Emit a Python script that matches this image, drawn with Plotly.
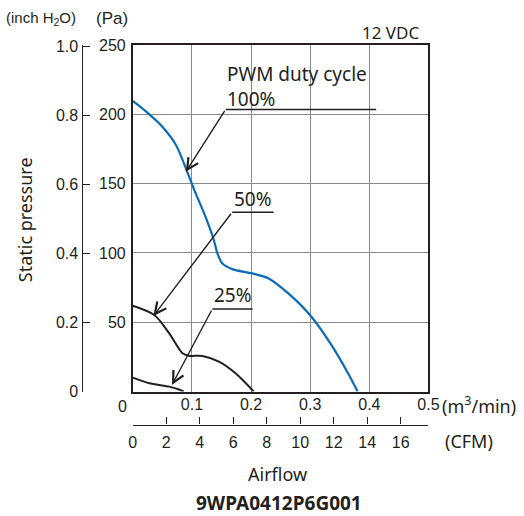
import plotly.graph_objects as go

# ---------------- data ----------------
flow_100 = [0, 0.025, 0.050, 0.073, 0.092, 0.104, 0.123, 0.137, 0.143, 0.151, 0.168, 0.2016, 0.2296, 0.263, 0.2996, 0.336, 0.364, 0.380]
pa_100 = [209.6, 201, 191, 177.8, 158.5, 145.3, 126, 109.3, 99.7, 92.5, 88.3, 85.2, 81.6, 70.8, 55.2, 33.5, 13.1, 0]

flow_50 = [0, 0.0364, 0.0616, 0.084, 0.095, 0.1176, 0.1456, 0.1737, 0.2044]
pa_50 = [61.9, 55.2, 42, 27.6, 25.8, 25.6, 21.5, 13.1, 0]

flow_25 = [0, 0.028, 0.0616, 0.078, 0.086]
pa_25 = [10, 5.9, 3.5, 1.4, 0]

# pointer labels: label, tip (x,y), elbow (x,y), line end x
ptr_names = ["PWM duty cycle<br>100%", "50%", "25%"]
ptr_tip_x = [0.0896, 0.0348, 0.0662]
ptr_tip_y = [158.5, 54.5, 4.7]
ptr_elbow_x = [0.157, 0.168, 0.1344]
ptr_elbow_y = [203.5, 129.3, 59.5]
ptr_end_x = [0.4115, 0.238, 0.2027]
ptr_text_x = [0.1567, 0.1675, 0.1339]
ptr_text_y = [220.0, 138.9, 69.4]

pa_ticks = [50, 100, 150, 200, 250]
inch_ticks = [0, 0.2, 0.4, 0.6, 0.8, 1.0]
inch_labels = ["0", "0.2", "0.4", "0.6", "0.8", "1.0"]
m3_ticks = [0.1, 0.2, 0.3, 0.4, 0.5]
m3_labels = ["0.1", "0.2", "0.3", "0.4", "0.5"]
cfm_ticks = [0, 2, 4, 6, 8, 10, 12, 14, 16]

PA_PER_INCH = 249.089
M3_PER_CFM = 0.0283168

# ---------------- layout geometry ----------------
W, H = 524, 516
ML, MR, MT, MB = 60, 20, 30, 30
PW = W - ML - MR
PH = H - MT - MB


def px(x):
    return (x - ML) / PW


def py(y):
    return (H - MB - y) / PH


TXT = "#231f20"
NUM_FONT = "Liberation Sans Narrow, Arial Narrow, Liberation Sans, Arial"
LBL_FONT = "Noto Sans, Liberation Sans, Arial"
BLUE = "#0a6bb8"

fig = go.Figure()

fig.add_trace(go.Scatter(x=flow_100, y=pa_100, mode="lines",
                         line=dict(color=BLUE, width=2.2, shape="spline", smoothing=0.8),
                         showlegend=False, hoverinfo="skip"))
fig.add_trace(go.Scatter(x=flow_50, y=pa_50, mode="lines",
                         line=dict(color=TXT, width=2, shape="spline", smoothing=0.8),
                         showlegend=False, hoverinfo="skip"))
fig.add_trace(go.Scatter(x=flow_25, y=pa_25, mode="lines",
                         line=dict(color=TXT, width=2, shape="spline", smoothing=0.6),
                         showlegend=False, hoverinfo="skip"))

# dummy traces to activate secondary axes
fig.add_trace(go.Scatter(x=[None], y=[None], yaxis="y2", showlegend=False, hoverinfo="skip"))
fig.add_trace(go.Scatter(x=[None], y=[None], xaxis="x2", showlegend=False, hoverinfo="skip"))

annotations = []
shapes = []
for name, tx, ty, ex, ey, endx in zip(ptr_names, ptr_tip_x, ptr_tip_y, ptr_elbow_x, ptr_elbow_y, ptr_end_x):
    shapes.append(dict(type="line", xref="x", yref="y", x0=ex, y0=ey, x1=endx, y1=ey,
                       line=dict(color=TXT, width=1.4)))
    annotations.append(dict(x=tx, y=ty, ax=ex, ay=ey, xref="x", yref="y", axref="x", ayref="y",
                            text="", showarrow=True, arrowhead=5, arrowsize=1.6, arrowwidth=1.4,
                            arrowcolor=TXT, standoff=0))

for name, x, y in zip(ptr_names, ptr_text_x, ptr_text_y):
    annotations.append(dict(x=x, y=y, xref="x", yref="y", text=name, showarrow=False,
                            xanchor="left", yanchor="middle", align="left",
                            font=dict(family=LBL_FONT, size=19, color=TXT)))


def txt(x, y, s, xa="center", font=LBL_FONT, size=18, angle=0):
    annotations.append(dict(x=px(x), y=py(y), xref="paper", yref="paper", text=s, showarrow=False,
                            xanchor=xa, yanchor="middle", textangle=angle,
                            font=dict(family=font, size=size, color=TXT)))


txt(41, 19, "(inch H<sub>2</sub>O)", font=NUM_FONT, size=15)
txt(112, 19, "(Pa)", font=NUM_FONT, size=17)
txt(392.5, 33, "12 VDC", font=LBL_FONT, size=17)
txt(122.5, 406, "0", font=NUM_FONT, size=16)
txt(443, 405, "(m<sup>3</sup>/min)", xa="left", size=18)
txt(446, 441, "(CFM)", xa="left", size=18)
txt(279, 474, "Airflow", size=18)
txt(25, 220, "Static pressure", size=18, angle=-90)
annotations.append(dict(x=px(280), y=py(503), xref="paper", yref="paper", text="<b>9WPA0412P6G001</b>",
                        showarrow=False, xanchor="center", yanchor="middle",
                        font=dict(family=LBL_FONT, size=19, color=TXT)))

xdom = [px(133.3), px(431)]
ydom = [py(391.5), py(45)]

fig.update_layout(
    width=W, height=H,
    margin=dict(l=ML, r=MR, t=MT, b=MB),
    paper_bgcolor="white", plot_bgcolor="white",
    showlegend=False,
    xaxis=dict(domain=xdom, range=[0, 0.5], tickvals=m3_ticks, ticktext=m3_labels,
               showgrid=True, gridcolor="#8a8a8a", gridwidth=1.3,
               showline=True, linecolor=TXT, linewidth=1.8, mirror=True,
               ticks="", zeroline=False, ticklabelstandoff=-3,
               tickfont=dict(family=NUM_FONT, size=16, color=TXT)),
    yaxis=dict(domain=ydom, range=[0, 250], tickvals=pa_ticks,
               showgrid=True, gridcolor="#8a8a8a", gridwidth=1.3,
               showline=True, linecolor=TXT, linewidth=1.8, mirror=True,
               ticks="", zeroline=False, ticklabelstandoff=2,
               tickfont=dict(family=NUM_FONT, size=16, color=TXT)),
    yaxis2=dict(overlaying="y", anchor="free", side="left", position=px(81.7),
                range=[0, 250 / PA_PER_INCH], tickvals=inch_ticks, ticktext=inch_labels,
                showgrid=False, zeroline=False, showline=True, linecolor=TXT, linewidth=1.4,
                ticks="inside", ticklen=7, tickcolor=TXT, tickwidth=1.4,
                tickfont=dict(family=NUM_FONT, size=16, color=TXT)),
    xaxis2=dict(overlaying="x", anchor="free", side="bottom", position=py(424.5),
                range=[0, 0.5 / M3_PER_CFM], tickvals=cfm_ticks,
                showgrid=False, zeroline=False, showline=True, linecolor=TXT, linewidth=1.4,
                ticks="inside", ticklen=7, tickcolor=TXT, tickwidth=1.4, ticklabelstandoff=3,
                tickfont=dict(family=NUM_FONT, size=16, color=TXT)),
    annotations=annotations,
    shapes=shapes,
)

fig.write_html("out.html", config={"displayModeBar": False},
               post_script="document.body.style.margin='0';document.body.style.overflow='hidden';")
